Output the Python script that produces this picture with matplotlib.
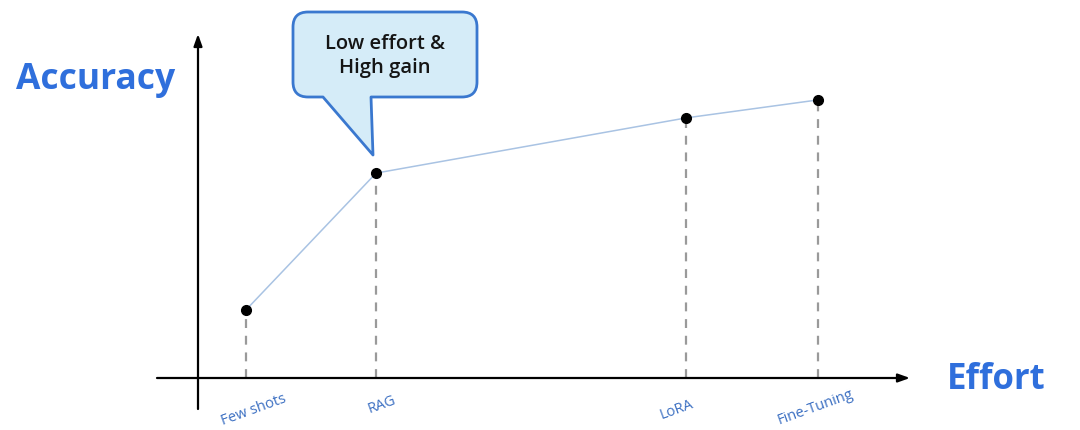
import matplotlib
matplotlib.use("Agg")
import matplotlib.pyplot as plt
from matplotlib.path import Path
from matplotlib.patches import PathPatch

# ---- data ----
methods = ["Few shots", "RAG", "LoRA", "Fine-Tuning"]
effort = [1.0, 3.71, 10.17, 12.92]
accuracy = [2.27, 6.83, 8.67, 9.27]
x_title = "Effort"
y_title = "Accuracy"
callout_text = "Low effort &\nHigh gain"

# ---- layout helpers (pixel -> data) ----
W, H = 1080, 431
X0, Y0 = 198, 379      # axis origin in pixels
UX, UY = 48.0, 30.0    # pixels per data unit


def px(x):
    return (x - X0) / UX


def py(y):
    return (Y0 - y) / UY


fig = plt.figure(figsize=(W / 100, H / 100), dpi=100)
ax = fig.add_axes([0, 0, 1, 1])
ax.set_xlim(px(0), px(W))
ax.set_ylim(py(H), py(0))
ax.axis("off")

BLUE = "#2f6fdc"
TICKBLUE = "#3b6fc2"
FONT = ["Open Sans", "DejaVu Sans"]

# axes arrows
ax.annotate("", xy=(px(910), 0), xytext=(px(157), 0),
            arrowprops=dict(arrowstyle="-|>,head_length=0.7,head_width=0.25",
                            color="black", lw=1.6, shrinkA=0, shrinkB=0))
ax.annotate("", xy=(0, py(35)), xytext=(0, py(410)),
            arrowprops=dict(arrowstyle="-|>,head_length=0.7,head_width=0.25",
                            color="black", lw=1.6, shrinkA=0, shrinkB=0))

# dashed drop lines
for xv, yv in zip(effort, accuracy):
    ax.plot([xv, xv], [0, yv], color="#9a9a9a", lw=1.6,
            dashes=(4, 3.5), zorder=2)

# connecting line
ax.plot(effort, accuracy, color="#a9c3e3", lw=1.1, zorder=3)
ax.plot(effort, accuracy, "o", color="black", ms=7, zorder=4)

# tick labels
offs = [(8, 31), (6, 26), (-9, 31), (-3, 28)]
for xv, name, (dx, dy) in zip(effort, methods, offs):
    ax.text(xv + dx / UX, -dy / UY, name, rotation=20, color=TICKBLUE,
            fontsize=10.5, ha="center", va="center", family=FONT)

# axis titles
ax.text(px(96), py(80), y_title, color=BLUE, fontsize=25.5, fontweight="bold",
        ha="center", va="center", family=FONT)
ax.text(px(996), py(380), x_title, color=BLUE, fontsize=25, fontweight="bold",
        ha="center", va="center", family=FONT)

# callout bubble
l, r, t, b, rad = 293, 477, 13, 98, 15
tl, tip, tr = (323, 98), (373, 156), (371, 98)
pts = [
    ((l + rad, t), Path.MOVETO),
    ((r - rad, t), Path.LINETO),
    ((r, t), Path.CURVE3), ((r, t + rad), Path.CURVE3),
    ((r, b - rad), Path.LINETO),
    ((r, b), Path.CURVE3), ((r - rad, b), Path.CURVE3),
    (tr, Path.LINETO),
    (tip, Path.LINETO),
    (tl, Path.LINETO),
    ((l + rad, b), Path.LINETO),
    ((l, b), Path.CURVE3), ((l, b - rad), Path.CURVE3),
    ((l, t + rad), Path.LINETO),
    ((l, t), Path.CURVE3), ((l + rad, t), Path.CURVE3),
    ((l + rad, t), Path.CLOSEPOLY),
]
verts = [(px(p[0]), py(p[1])) for p, _ in pts]
codes = [c for _, c in pts]
ax.add_patch(PathPatch(Path(verts, codes), facecolor="#d5ecf8",
                       edgecolor="#3a78cf", lw=2.0, joinstyle="round",
                       zorder=5))
ax.text(px(385), py(56), callout_text, ha="center", va="center",
        fontsize=14.5, fontweight="semibold", color="#151515", family=FONT,
        linespacing=1.3, zorder=6)

fig.savefig("out.png", dpi=100, facecolor="white")
